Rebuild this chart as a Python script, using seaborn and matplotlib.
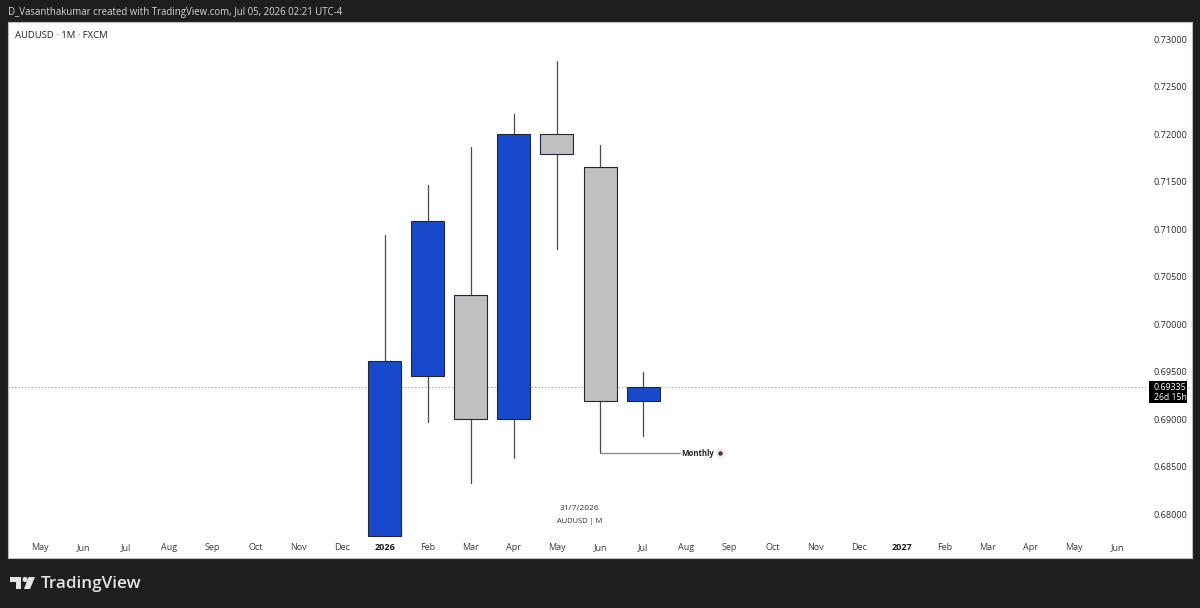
import matplotlib
matplotlib.use("Agg")
import matplotlib.pyplot as plt
from matplotlib.patches import Rectangle, Circle, Polygon
from matplotlib.transforms import IdentityTransform
import pandas as pd
import seaborn as sns

# Monthly candles, AUDUSD
months = ["Jan", "Feb", "Mar", "Apr", "May", "Jun", "Jul"]
opens = [0.67768, 0.69453, 0.70305, 0.69000, 0.72000, 0.71653, 0.69189]
closes = [0.69611, 0.71084, 0.69000, 0.72000, 0.71790, 0.69189, 0.69335]
highs = [0.70937, 0.71463, 0.71863, 0.72211, 0.72768, 0.71884, 0.69495]
lows = [0.67768, 0.68968, 0.68326, 0.68590, 0.70789, 0.68642, 0.68821]

time_labels = ["May", "Jun", "Jul", "Aug", "Sep", "Oct", "Nov", "Dec", "2026", "Feb", "Mar", "Apr",
               "May", "Jun", "Jul", "Aug", "Sep", "Oct", "Nov", "Dec", "2027", "Feb", "Mar", "Apr",
               "May", "Jun"]
price_ticks = [0.68, 0.685, 0.69, 0.695, 0.70, 0.705, 0.71, 0.715, 0.72, 0.725, 0.73]
first_candle = 8
last_price = 0.69335

DARK = "#1e1e1e"
UP = "#1849cc"
DOWN = "#c0c0c0"
EDGE = "#22263a"
FONT = ["Open Sans", "DejaVu Sans"]

W, H = 1200, 608
sns.set_theme(style="white")
plt.rcParams["font.family"] = FONT

fig = plt.figure(figsize=(W / 100, H / 100), dpi=100, facecolor=DARK)
left, right, top, bottom = 8, 1192, 22, 558
ax = fig.add_axes([left / W, 1 - bottom / H, (right - left) / W, (bottom - top) / H])
ax.set_facecolor("white")


def px(x, y):
    """Pixel position (origin top left) to figure fraction."""
    return x / W, 1 - y / H


candles = pd.DataFrame({"month": months, "open": opens, "close": closes, "high": highs, "low": lows})
candles["x"] = range(first_candle, first_candle + len(months))
candles["height"] = (candles["close"] - candles["open"]).abs()
candles["base"] = candles[["open", "close"]].min(axis=1)
candles["rising"] = candles["close"] >= candles["open"]

# Wicks
wicks = candles.melt(id_vars="x", value_vars=["high", "low"], value_name="price")
sns.lineplot(data=wicks, x="x", y="price", units="x", estimator=None, color="#4a4a4a",
             linewidth=0.9, legend=False, ax=ax, zorder=2)

# Bodies
for rising, colour in [(True, UP), (False, DOWN)]:
    part = candles[candles["rising"] == rising]
    sns.barplot(data=part, x="x", y="height", bottom=part["base"].to_numpy(), native_scale=True,
                width=0.766, color=colour, saturation=1, edgecolor=EDGE, linewidth=0.8,
                legend=False, ax=ax, zorder=3)

ax.set_xlim(-0.743, 26.74)
ax.set_ylim(0.67537, 0.73179)
ax.set_xlabel("")
ax.set_ylabel("")

# Last price line
ax.axhline(last_price, color="#9a9a9a", linewidth=0.8, linestyle=(0, (1, 2)), zorder=1)

# Axes labels sit inside the white panel
ax.set_xticks(range(len(time_labels)))
ax.set_xticklabels(time_labels)
ax.set_yticks(price_ticks)
ax.set_yticklabels([f"{p:.5f}" for p in price_ticks])
ax.yaxis.tick_right()
ax.tick_params(axis="y", length=0, pad=-3.6, labelsize=6.6, labelcolor="#2b2b2b", zorder=6)
ax.tick_params(axis="x", length=0, pad=-10.6, labelsize=6.5, labelcolor="#3a3a3a")
for lab in ax.get_yticklabels():
    lab.set_ha("right")
for lab in ax.get_xticklabels():
    if lab.get_text() in ("2026", "2027"):
        lab.set_fontweight("bold")
        lab.set_color("#1a1a1a")
for side in ax.spines.values():
    side.set_color("#bdbdbd")
    side.set_linewidth(0.8)

# Monthly level marker
level_end = 14.86
ax.plot([candles["x"].iloc[5], level_end], [lows[5], lows[5]], color="#868686", linewidth=0.9, zorder=2)
ax.annotate("Monthly", (level_end, lows[5]), xytext=(1, 0), textcoords="offset points",
            ha="left", va="center", fontsize=5.6, fontweight="bold", color="#222222")
ax.plot([15.78], [lows[5]], marker="o", markersize=7, color="#f5ebee", markeredgewidth=0, zorder=2)
ax.plot([15.78], [lows[5]], marker="o", markersize=3.2, color="#5a2a3e", markeredgewidth=0, zorder=3)

# Last price tag
x0, y0 = px(1149, 403)
x1, y1 = px(1187, 381)
fig.add_artist(Rectangle((x0, y0), x1 - x0, y1 - y0, transform=fig.transFigure, facecolor="black",
                         edgecolor="none", zorder=5))
fig.text(*px(1170, 387.5), f"{last_price:.5f}", color="white", fontsize=6.4, ha="center", va="center", zorder=6)
fig.text(*px(1170, 398), "26d 15h", color="white", fontsize=6.2, ha="center", va="center", zorder=6)

# Chart annotations
fig.text(*px(579, 508), "31/7/2026", color="#333333", fontsize=6.0, ha="center", va="center")
fig.text(*px(580, 521.5), "AUDUSD | M", color="#333333", fontsize=5.4, ha="center", va="center")
fig.text(*px(15, 35.5), "AUDUSD · 1M · FXCM", color="#222222", fontsize=6.8, ha="left", va="center")

# Header and branding strip
fig.text(*px(8, 12), "D_Vasanthakumar created with TradingView.com, Jul 05, 2026 02:21 UTC-4",
         color="#d6d6d6", fontsize=6.95, ha="left", va="center")
logo = "#e4e4e4"
for pts in ([(10, 577), (21, 577), (21, 589), (16, 589), (16, 582), (10, 582)],
            [(28.5, 577), (35, 577), (30, 589), (24, 589)]):
    fig.add_artist(Polygon([px(*p) for p in pts], transform=fig.transFigure, facecolor=logo, edgecolor="none"))
fig.add_artist(Circle((25, H - 579.5), 2.6, transform=IdentityTransform(), facecolor=logo, edgecolor="none"))
fig.text(*px(41, 583.5), "TradingView", color=logo, fontsize=12.3, ha="left", va="center", fontweight="semibold")

fig.savefig("out.png", dpi=100, facecolor=DARK)
